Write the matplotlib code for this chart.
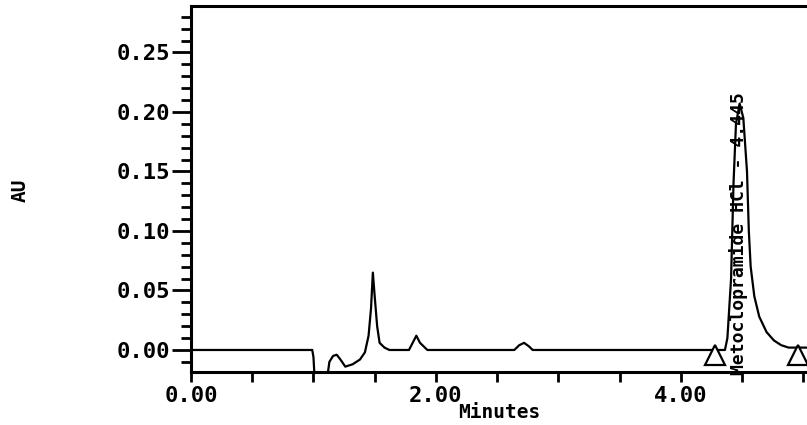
import matplotlib
matplotlib.use("Agg")
import matplotlib.pyplot as plt
from matplotlib.ticker import MultipleLocator, FixedLocator

# trace (minutes, AU)
times = [0.00, 0.99, 1.00, 1.01, 1.11, 1.13, 1.16, 1.19, 1.22, 1.26, 1.32, 1.38,
         1.42, 1.45, 1.47, 1.485, 1.50, 1.52, 1.54, 1.58, 1.62, 1.78, 1.81, 1.84,
         1.87, 1.93, 2.64, 2.68, 2.72, 2.76, 2.79, 4.36, 4.38, 4.41, 4.43, 4.45,
         4.48, 4.51, 4.54, 4.555, 4.57, 4.60, 4.64, 4.70, 4.76, 4.82, 4.88, 5.03]
absorb = [0.000, 0.000, -0.006, -0.025, -0.025, -0.010, -0.005, -0.004, -0.008,
          -0.014, -0.012, -0.008, -0.002, 0.012, 0.035, 0.065, 0.045, 0.020,
          0.006, 0.002, 0.000, 0.000, 0.006, 0.012, 0.006, 0.000, 0.000, 0.004,
          0.006, 0.003, 0.000, 0.000, 0.010, 0.060, 0.140, 0.190, 0.207, 0.195,
          0.150, 0.100, 0.070, 0.045, 0.028, 0.015, 0.008, 0.004, 0.002, 0.002]

# peak start / end markers
marker_t = [4.28, 4.96]
marker_y = [-0.004, -0.004]
peak_name = "Metoclopramide HCl - 4.445"
peak_t = 4.47

y_major = [0.00, 0.05, 0.10, 0.15, 0.20, 0.25]
y_labels = ["0.00", "0.05", "0.10", "0.15", "0.20", "0.25"]
x_major = [0.0, 2.0, 4.0]
x_labels = ["0.00", "2.00", "4.00"]

mono = "DejaVu Sans Mono"

fig = plt.figure(figsize=(8.07, 4.25), dpi=100)
ax = fig.add_axes([191 / 807, 53 / 425, 616 / 807, 366 / 425])

ax.plot(times, absorb, color="black", lw=1.6, clip_on=True)
ax.plot(marker_t, marker_y, linestyle="none", marker="^", markersize=14,
        markerfacecolor="white", markeredgecolor="black", markeredgewidth=1.6)
ax.text(peak_t, -0.021, peak_name, rotation=90, ha="center", va="bottom",
        family=mono, weight="bold", fontsize=13, clip_on=False)

ax.set_xlim(0, 5.03)
ax.set_ylim(-0.0185, 0.289)

for side in ["left", "bottom", "top"]:
    ax.spines[side].set_linewidth(2.2)
ax.spines["right"].set_visible(False)

ax.yaxis.set_major_locator(FixedLocator(y_major))
ax.set_yticklabels(y_labels)
ax.yaxis.set_minor_locator(MultipleLocator(0.01))
ax.xaxis.set_major_locator(FixedLocator(x_major))
ax.set_xticklabels(x_labels)
ax.xaxis.set_minor_locator(MultipleLocator(0.5))

ax.tick_params(axis="y", which="major", length=14, width=2, pad=1, direction="out")
ax.tick_params(axis="y", which="minor", length=7, width=2, direction="out")
ax.tick_params(axis="x", which="both", length=7, width=2, pad=3, direction="out")

for lab in ax.get_xticklabels() + ax.get_yticklabels():
    lab.set_family(mono)
    lab.set_weight("bold")
    lab.set_fontsize(16)

ax.set_xlabel("Minutes", family=mono, weight="bold", fontsize=14, va="center")
ax.xaxis.set_label_coords(0.5, -0.11)

fig.text(20 / 807, 1 - 190 / 425, "AU", rotation=90, ha="center", va="center",
         family=mono, weight="bold", fontsize=14)

fig.savefig("out.png", dpi=100)
